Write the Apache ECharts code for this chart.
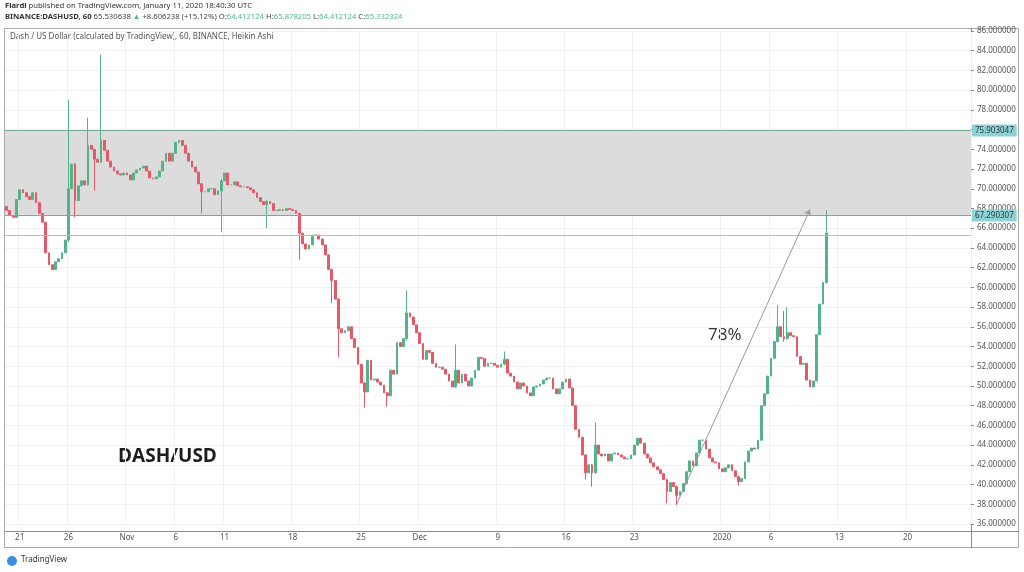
<!DOCTYPE html>
<html><head><meta charset="utf-8">
<script src="https://cdn.jsdelivr.net/npm/echarts@6/dist/echarts.min.js"></script>
<style>html,body{margin:0;padding:0;background:#fff}#c{width:1024px;height:572px}</style>
</head><body><div id="c"></div>
<script>
// ---- data ----
const startTime = Date.UTC(2019, 9, 19, 16); // first 8h bar, Oct 19 16:00 UTC
const barHours = 8;
const slotCount = 297; // axis extends to late January
const tickLabels = [
  ['2019-10-21', '21'], ['2019-10-26', '26'], ['2019-11-01', 'Nov'], ['2019-11-06', '6'],
  ['2019-11-11', '11'], ['2019-11-18', '18'], ['2019-11-25', '25'], ['2019-12-01', 'Dec'],
  ['2019-12-09', '9'], ['2019-12-16', '16'], ['2019-12-23', '23'], ['2020-01-01', '2020'],
  ['2020-01-06', '6'], ['2020-01-13', '13'], ['2020-01-20', '20']
];
const firstOpen = 68.2;
const closes = [
  67.8, 67.3, 67.1, 68.9, 69.9, 69.6, 69.2, 68.9, 69.6, 68.6,
  67.5, 66.6, 63.5, 62.3, 61.8, 62.6, 62.9, 63.5, 64.8, 70.0,
  72.5, 68.8, 70.3, 70.8, 70.4, 74.4, 74.0, 73.0, 72.7, 74.9,
  73.9, 72.8, 72.2, 71.8, 71.5, 71.4, 71.6, 71.4, 70.9, 71.6,
  71.9, 72.1, 72.3, 71.8, 71.1, 71.0, 71.2, 71.8, 72.8, 73.6,
  72.8, 73.6, 74.7, 74.9, 74.4, 73.6, 72.8, 72.2, 71.7, 70.5,
  69.7, 69.7, 70.0, 70.0, 69.4, 69.8, 70.8, 71.6, 70.4, 70.4,
  70.7, 70.3, 70.2, 70.2, 70.1, 69.9, 69.6, 69.1, 68.7, 68.4,
  68.7, 68.5, 67.8, 67.8, 67.9, 67.8, 68.0, 67.9, 67.8, 67.5,
  65.5, 64.4, 63.9, 64.3, 65.3, 65.3, 64.9, 64.3, 63.3, 61.8,
  60.7, 58.8, 55.8, 55.4, 55.6, 56.0, 54.8, 53.9, 52.2, 50.3,
  49.4, 52.6, 50.6, 50.7, 50.4, 50.1, 49.3, 49.0, 51.6, 51.2,
  54.4, 54.0, 54.8, 57.4, 57.0, 56.2, 55.4, 54.3, 52.7, 53.6,
  53.4, 52.3, 51.9, 51.9, 51.7, 51.2, 50.5, 49.9, 51.6, 50.3,
  51.2, 50.5, 50.0, 50.8, 51.6, 52.9, 52.8, 52.0, 52.3, 52.3,
  52.1, 51.9, 52.2, 52.7, 51.3, 51.0, 50.4, 49.7, 50.3, 50.0,
  49.3, 49.0, 49.9, 50.0, 50.2, 50.6, 50.8, 50.8, 49.7, 49.2,
  49.7, 50.4, 50.7, 49.8, 48.0, 45.6, 44.8, 43.0, 41.2, 42.0,
  41.2, 44.0, 43.1, 42.9, 43.1, 42.4, 43.1, 43.2, 43.0, 42.8,
  42.6, 42.6, 43.0, 44.0, 44.7, 44.2, 43.1, 42.7, 42.2, 41.8,
  41.5, 41.1, 40.5, 39.3, 40.2, 39.8, 38.9, 39.3, 40.1, 41.3,
  42.4, 41.9, 43.2, 44.5, 44.5, 43.6, 42.7, 42.3, 42.2, 41.6,
  41.3, 41.7, 42.0, 41.4, 40.8, 40.3, 40.6, 42.3, 43.4, 43.7,
  43.6, 44.5, 48.0, 49.2, 51.0, 52.8, 54.5, 56.0, 55.0, 54.8,
  55.4, 55.1, 55.0, 53.0, 52.2, 52.3, 50.6, 49.9, 50.5, 55.2,
  58.3, 60.5, 65.5
];
// visible wicks: [bar index, low, high]
const wicks = [
  [19, 64.6, 79.0], [21, 67.1, 72.6], [25, 70.3, 77.2], [27, 69.8, 74.0], [29, 72.6, 83.6],
  [60, 67.5, 70.6], [66, 65.6, 71.0], [80, 66.0, 68.9], [90, 62.8, 67.6], [100, 58.4, 61.9],
  [102, 52.9, 58.9], [110, 47.8, 50.4], [117, 47.9, 49.4], [123, 54.6, 59.7], [138, 49.8, 54.2],
  [153, 52.1, 53.5], [178, 40.5, 43.1], [180, 39.8, 42.1], [181, 41.1, 46.3], [203, 38.1, 40.6],
  [206, 37.9, 39.9], [225, 39.9, 40.9], [237, 54.4, 58.2], [239, 54.5, 57.6], [240, 54.7, 58.0],
  [252, 60.4, 67.8]
];
const zoneLow = 67.290307;
const zoneHigh = 75.903047;
const lastPrice = 65.33;
const arrowFrom = [206, 38.0];
const arrowTo = [247, 67.9];
const yTicks = { min: 36, max: 86, step: 2 };

// ---- build ----
function pad(n) { return (n < 10 ? '0' : '') + n; }
const categories = [];
for (let i = 0; i < slotCount; i++) {
  const d = new Date(startTime + i * barHours * 3600000);
  categories.push(d.getUTCFullYear() + '-' + pad(d.getUTCMonth() + 1) + '-' + pad(d.getUTCDate()) + ' ' + pad(d.getUTCHours()) + ':00');
}
const tickMap = {};
tickLabels.forEach(t => { tickMap[t[0] + ' 00:00'] = t[1]; });
const wickMap = {};
wicks.forEach(w => { wickMap[w[0]] = w; });
const candles = closes.map((c, i) => {
  const o = i ? closes[i - 1] : firstOpen;
  let lo = Math.min(o, c), hi = Math.max(o, c);
  if (wickMap[i]) { lo = Math.min(lo, wickMap[i][1]); hi = Math.max(hi, wickMap[i][2]); }
  return [o, c, lo, hi];
});
const isTick = (idx, val) => tickMap[val] !== undefined;

const chart = echarts.init(document.getElementById('c'), null, { renderer: 'canvas' });
const font = 'Noto Sans';
const up = '#55b38a';
const down = '#e65a68';
const teal = '#53b987';
chart.setOption({
  animation: false,
  backgroundColor: '#ffffff',
  grid: { left: 5, right: 53, top: 31, bottom: 48 },
  xAxis: {
    type: 'category', data: categories, boundaryGap: true,
    axisLine: { show: false }, axisTick: { show: false },
    axisLabel: { interval: isTick, formatter: v => tickMap[v] || '', color: '#555', fontSize: 8, fontFamily: font, margin: 10 },
    splitLine: { show: true, interval: isTick, lineStyle: { color: '#eef0f1', width: 1 } }
  },
  yAxis: {
    type: 'value', position: 'right', min: yTicks.min, max: yTicks.max, interval: yTicks.step,
    axisLine: { show: false },
    axisTick: { show: true, length: 3, lineStyle: { color: '#888' } },
    axisLabel: { formatter: v => v.toFixed(6), color: '#555', fontSize: 8, fontFamily: font, margin: 6 },
    splitLine: { show: true, lineStyle: { color: '#eef0f1', width: 1 } }
  },
  series: [
    {
      type: 'line', data: [], z: 1, silent: true,
      markArea: { silent: true, itemStyle: { color: '#dcdcdc' }, data: [[{ yAxis: zoneLow }, { yAxis: zoneHigh }]] },
      markLine: {
        silent: true, symbol: ['none', 'none'],
        data: [
          { yAxis: zoneHigh, lineStyle: { color: '#7ea79d', width: 1.2, type: 'solid' },
            label: { show: true, position: 'end', distance: 1, formatter: zoneHigh.toFixed(6), backgroundColor: '#8fd2d6', color: '#2a3a3a', fontSize: 8, fontFamily: font, padding: [2, 3] } },
          { yAxis: zoneLow, lineStyle: { color: '#7ea79d', width: 1.2, type: 'solid' },
            label: { show: true, position: 'end', distance: 1, formatter: zoneLow.toFixed(6), backgroundColor: '#8fd2d6', color: '#2a3a3a', fontSize: 8, fontFamily: font, padding: [2, 3] } },
          { yAxis: lastPrice, lineStyle: { color: '#b5bcbb', width: 1, type: 'solid' }, label: { show: false } }
        ]
      }
    },
    {
      type: 'candlestick', data: candles, z: 3, barWidth: '70%',
      itemStyle: { color: up, color0: down, borderColor: up, borderColor0: down, borderWidth: 1 },
      markLine: {
        silent: true, symbol: ['none', 'arrow'], symbolSize: 6,
        lineStyle: { color: '#9b9b9b', width: 1, type: 'solid' }, label: { show: false },
        data: [[{ coord: [categories[arrowFrom[0]], arrowFrom[1]] }, { coord: [categories[arrowTo[0]], arrowTo[1]] }]]
      }
    }
  ],
  graphic: [
    { type: 'rect', shape: { x: 4.5, y: 28.5, width: 1014, height: 519 }, style: { fill: 'none', stroke: '#a9a9a9', lineWidth: 1 }, silent: true },
    { type: 'line', shape: { x1: 971.5, y1: 28, x2: 971.5, y2: 548 }, style: { stroke: '#8a8a8a', lineWidth: 1 }, silent: true },
    { type: 'line', shape: { x1: 5, y1: 531.5, x2: 1019, y2: 531.5 }, style: { stroke: '#8a8a8a', lineWidth: 1 }, silent: true },
    { type: 'text', left: 5, top: 2, style: { text: '{b|Fiardi} published on TradingView.com, January 11, 2020 18:40:30 UTC', fontSize: 7.7, fontFamily: font, fill: '#333', rich: { b: { fontWeight: 'bold', fontSize: 7.7, fontFamily: font } } } },
    { type: 'text', left: 5, top: 13, style: { text: '{b|BINANCE:DASHUSD, 60} 65.530638 {t|▲} +8.606238 (+15.12%) O:{t|64.412124} H:{t|65.878205} L:{t|64.412124} C:{t|65.332324}', fontSize: 7.7, fontFamily: font, fill: '#444', rich: { b: { fontWeight: 'bold', fontSize: 7.7, fontFamily: font, fill: '#333' }, t: { fill: teal, fontSize: 7.7, fontFamily: font } } } },
    { type: 'text', left: 10, top: 33, style: { text: 'Dash / US Dollar (calculated by TradingView), 60, BINANCE, Heikin Ashi', fontSize: 8, fontFamily: font, fill: '#555' } },
    { type: 'text', left: 118, top: 447, style: { text: 'DASH/USD', fontSize: 19, fontWeight: 'bold', fontFamily: 'Open Sans', fill: '#1c1c1c' } },
    { type: 'text', left: 708, top: 327, style: { text: '78%', fontSize: 17, fontFamily: 'Open Sans', fill: '#333' } },
    { type: 'circle', shape: { cx: 12, cy: 561, r: 5 }, style: { fill: '#3d8fe0' }, silent: true },
    { type: 'text', left: 21, top: 556, style: { text: 'TradingView', fontSize: 8, fontFamily: font, fill: '#333' } }
  ]
});
</script></body></html>
